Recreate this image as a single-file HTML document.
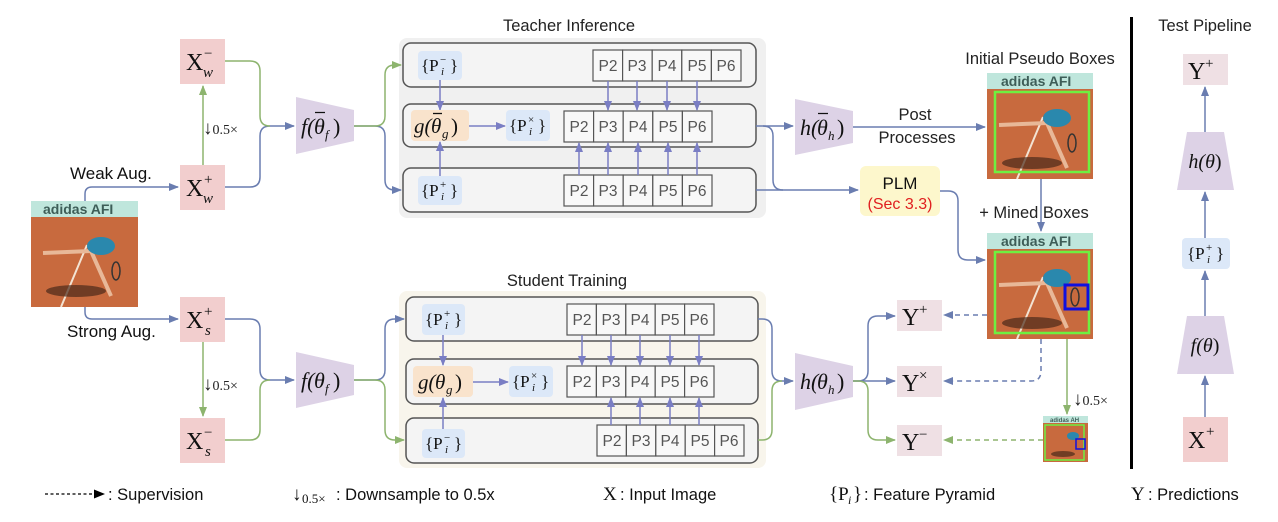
<!DOCTYPE html>
<html><head><meta charset="utf-8"><style>
html,body{margin:0;padding:0;background:#fff;}
svg{display:block;}
.s{font-family:"Liberation Sans",sans-serif;}
.m{font-family:"Liberation Serif","DejaVu Serif",serif;}
</style></head><body>
<svg width="1278" height="522" viewBox="0 0 1278 522" xmlns="http://www.w3.org/2000/svg">
<defs>
<marker id="ab" markerWidth="10" markerHeight="10" refX="9" refY="5" orient="auto" markerUnits="userSpaceOnUse"><path d="M0,1 L10,5 L0,9 z" fill="#6a7db0"/></marker>
<marker id="ag" markerWidth="10" markerHeight="10" refX="9" refY="5" orient="auto" markerUnits="userSpaceOnUse"><path d="M0,1 L10,5 L0,9 z" fill="#8db46e"/></marker>
<marker id="ap" markerWidth="10" markerHeight="10" refX="9" refY="5" orient="auto" markerUnits="userSpaceOnUse"><path d="M0,1 L10,5 L0,9 z" fill="#7a7ec4"/></marker>
</defs>

<g class="s" font-size="16.5" fill="#222" text-anchor="middle">
<text x="569" y="31">Teacher Inference</text>
<text x="567" y="286">Student Training</text>
<text x="1040" y="64">Initial Pseudo Boxes</text>
<text x="1034" y="218">+ Mined Boxes</text>
<text x="1205" y="31">Test Pipeline</text>
</g>

<rect x="399" y="38" width="367" height="180" rx="8" fill="#f0f0f0"/>
<g fill="#f4f4f4" stroke="#555" stroke-width="1.5">
<rect x="403" y="43" width="353" height="44" rx="8"/>
<rect x="403" y="104" width="353" height="43" rx="8"/>
<rect x="403" y="168" width="353" height="44" rx="8"/>
</g>
<rect x="399" y="291" width="367" height="177" rx="8" fill="#f8f5ec"/>
<g fill="#f4f4f4" stroke="#555" stroke-width="1.5">
<rect x="406" y="297" width="352" height="44" rx="8"/>
<rect x="406" y="359" width="352" height="45" rx="8"/>
<rect x="406" y="418" width="352" height="45" rx="8"/>
</g>

<g class="s" font-size="15.5" fill="#555">
<g stroke="#555" stroke-width="1.2" fill="#f8f8f8">
<rect x="593" y="50" width="29.6" height="31"/><rect x="622.6" y="50" width="29.6" height="31"/><rect x="652.2" y="50" width="29.6" height="31"/><rect x="681.8" y="50" width="29.6" height="31"/><rect x="711.4" y="50" width="29.6" height="31"/>
<rect x="564" y="111" width="29.6" height="31"/><rect x="593.6" y="111" width="29.6" height="31"/><rect x="623.2" y="111" width="29.6" height="31"/><rect x="652.8" y="111" width="29.6" height="31"/><rect x="682.4" y="111" width="29.6" height="31"/>
<rect x="564" y="175" width="29.6" height="31"/><rect x="593.6" y="175" width="29.6" height="31"/><rect x="623.2" y="175" width="29.6" height="31"/><rect x="652.8" y="175" width="29.6" height="31"/><rect x="682.4" y="175" width="29.6" height="31"/>
<rect x="567" y="304" width="29.4" height="31"/><rect x="596.4" y="304" width="29.4" height="31"/><rect x="625.8" y="304" width="29.4" height="31"/><rect x="655.2" y="304" width="29.4" height="31"/><rect x="684.6" y="304" width="29.4" height="31"/>
<rect x="567" y="366" width="29.4" height="31"/><rect x="596.4" y="366" width="29.4" height="31"/><rect x="625.8" y="366" width="29.4" height="31"/><rect x="655.2" y="366" width="29.4" height="31"/><rect x="684.6" y="366" width="29.4" height="31"/>
<rect x="597" y="425" width="29.4" height="31"/><rect x="626.4" y="425" width="29.4" height="31"/><rect x="655.8" y="425" width="29.4" height="31"/><rect x="685.2" y="425" width="29.4" height="31"/><rect x="714.6" y="425" width="29.4" height="31"/>
</g>
<g text-anchor="middle">
<text x="608" y="71">P2</text><text x="637" y="71">P3</text><text x="667" y="71">P4</text><text x="697" y="71">P5</text><text x="726" y="71">P6</text>
<text x="579" y="132">P2</text><text x="608" y="132">P3</text><text x="638" y="132">P4</text><text x="668" y="132">P5</text><text x="697" y="132">P6</text>
<text x="579" y="196">P2</text><text x="608" y="196">P3</text><text x="638" y="196">P4</text><text x="668" y="196">P5</text><text x="697" y="196">P6</text>
<text x="582" y="325">P2</text><text x="611" y="325">P3</text><text x="640" y="325">P4</text><text x="670" y="325">P5</text><text x="699" y="325">P6</text>
<text x="582" y="387">P2</text><text x="611" y="387">P3</text><text x="640" y="387">P4</text><text x="670" y="387">P5</text><text x="699" y="387">P6</text>
<text x="612" y="446">P2</text><text x="641" y="446">P3</text><text x="670" y="446">P4</text><text x="700" y="446">P5</text><text x="729" y="446">P6</text>
</g></g>

<g stroke="#7a7ec4" stroke-width="1.5" fill="none">
<path d="M608,81V110" marker-end="url(#ap)"/><path d="M637,81V110" marker-end="url(#ap)"/><path d="M667,81V110" marker-end="url(#ap)"/><path d="M697,81V110" marker-end="url(#ap)"/>
<path d="M579,175V143" marker-end="url(#ap)"/><path d="M608,175V143" marker-end="url(#ap)"/><path d="M638,175V143" marker-end="url(#ap)"/><path d="M668,175V143" marker-end="url(#ap)"/><path d="M697,175V143" marker-end="url(#ap)"/>
<path d="M440,80V110" marker-end="url(#ap)"/><path d="M440,176V142" marker-end="url(#ap)"/>
<path d="M469,126H505" marker-end="url(#ap)"/>
<path d="M582,335V365" marker-end="url(#ap)"/><path d="M611,335V365" marker-end="url(#ap)"/><path d="M640,335V365" marker-end="url(#ap)"/><path d="M670,335V365" marker-end="url(#ap)"/><path d="M699,335V365" marker-end="url(#ap)"/>
<path d="M611,425V398" marker-end="url(#ap)"/><path d="M640,425V398" marker-end="url(#ap)"/><path d="M670,425V398" marker-end="url(#ap)"/><path d="M699,425V398" marker-end="url(#ap)"/>
<path d="M443,335V365" marker-end="url(#ap)"/><path d="M443,430V398" marker-end="url(#ap)"/>
<path d="M473,382H508" marker-end="url(#ap)"/>
</g>

<g fill="#dce8f8">
<rect x="418" y="51" width="44" height="29" rx="4"/><rect x="506" y="110" width="44" height="31" rx="4"/><rect x="418" y="176" width="44" height="29" rx="4"/>
<rect x="422" y="304" width="43" height="31" rx="4"/><rect x="509" y="366" width="44" height="31" rx="4"/><rect x="422" y="429" width="43" height="29" rx="4"/>
<rect x="1182" y="238" width="48" height="31" rx="4"/>
</g>
<rect x="411" y="110" width="58" height="31" rx="4" fill="#f9e3cc"/>
<rect x="413" y="366" width="60" height="31" rx="4" fill="#f9e3cc"/>

<g class="m" fill="#111">
<g font-size="17">
<text x="421" y="71">{P</text><text x="450" y="71">}</text>
<text x="509" y="131">{P</text><text x="538" y="131">}</text>
<text x="421" y="196">{P</text><text x="450" y="196">}</text>
<text x="425" y="325">{P</text><text x="454" y="325">}</text>
<text x="512" y="387">{P</text><text x="541" y="387">}</text>
<text x="425" y="449">{P</text><text x="454" y="449">}</text>
<text x="1187" y="259">{P</text><text x="1216" y="259">}</text>
</g>
<g font-size="11">
<text x="440" y="63">−</text><text x="441" y="75" font-style="italic">i</text>
<text x="528" y="123">×</text><text x="529" y="135" font-style="italic">i</text>
<text x="440" y="188">+</text><text x="441" y="200" font-style="italic">i</text>
<text x="444" y="317">+</text><text x="445" y="329" font-style="italic">i</text>
<text x="531" y="379">×</text><text x="532" y="391" font-style="italic">i</text>
<text x="444" y="441">−</text><text x="445" y="453" font-style="italic">i</text>
<text x="1206" y="251">+</text><text x="1207" y="263" font-style="italic">i</text>
</g>
<g font-size="21">
<text x="414" y="133" font-style="italic">g(</text><text x="431" y="133" font-style="italic">θ</text><text x="451" y="133">)</text>
<text x="418" y="389" font-style="italic">g(</text><text x="435" y="389" font-style="italic">θ</text><text x="455" y="389">)</text>
</g>
<g font-size="13" font-style="italic"><text x="442" y="138">g</text><text x="446" y="394">g</text></g>
<path d="M433,113.5H442" stroke="#111" stroke-width="1.3"/>
</g>

<g fill="#f2cece">
<rect x="180" y="39" width="45" height="45"/><rect x="180" y="165" width="45" height="45"/><rect x="180" y="297" width="45" height="45"/><rect x="180" y="418" width="45" height="45"/>
<rect x="1183" y="417" width="45" height="45"/>
</g>
<g fill="#efe0e4">
<rect x="897" y="300" width="45" height="31"/><rect x="897" y="366" width="45" height="31"/><rect x="897" y="425" width="45" height="31"/>
<rect x="1183" y="54" width="45" height="31"/>
</g>
<g class="m" fill="#111">
<g font-size="24">
<text x="186" y="70">X</text><text x="186" y="196">X</text><text x="186" y="328">X</text><text x="186" y="449">X</text><text x="1188" y="448">X</text>
<text x="902" y="325">Y</text><text x="902" y="391">Y</text><text x="902" y="450">Y</text><text x="1188" y="79">Y</text>
</g>
<g font-size="15">
<text x="204" y="58">−</text><text x="204" y="184">+</text><text x="204" y="316">+</text><text x="204" y="437">−</text><text x="1206" y="436">+</text>
<text x="919" y="314">+</text><text x="919" y="380">×</text><text x="919" y="439">−</text><text x="1205" y="68">+</text>
</g>
<g font-size="15" font-style="italic">
<text x="203" y="77">w</text><text x="203" y="203">w</text><text x="205" y="335">s</text><text x="205" y="456">s</text>
</g>
</g>

<rect x="860" y="166" width="80" height="50" rx="6" fill="#fdf7cc"/>
<text class="s" x="900" y="189" font-size="17" text-anchor="middle" fill="#111">PLM</text>
<text class="s" x="900" y="209" font-size="16" text-anchor="middle" fill="#e02020">(Sec 3.3)</text>
<text class="s" x="915" y="120" font-size="16.5" text-anchor="middle" fill="#222">Post</text>
<text class="s" x="917" y="143" font-size="16.5" text-anchor="middle" fill="#222">Processes</text>

<text class="s" x="70" y="179" font-size="17" fill="#111">Weak Aug.</text>
<text class="s" x="67" y="337" font-size="17" fill="#111">Strong Aug.</text>
<g class="m" font-size="14" fill="#222">
<text x="203" y="134"><tspan font-size="19">↓</tspan>0.5×</text>
<text x="203" y="390"><tspan font-size="19">↓</tspan>0.5×</text>
<text x="1073" y="405"><tspan font-size="19">↓</tspan>0.5×</text>
</g>

<g fill="none" stroke="#6a7db0" stroke-width="1.5">
<path d="M85,201 V194 Q85,187 92,187 H178" marker-end="url(#ab)"/>
<path d="M85,307 V312 Q85,319 92,319 H178" marker-end="url(#ab)"/>
<path d="M225,187 H250 Q260,187 260,177 V136 Q260,126 270,126 H294" marker-end="url(#ab)"/>
<path d="M354,126 H375 Q385,126 385,136 V180 Q385,190 395,190 H401" marker-end="url(#ab)"/>
<path d="M225,319 H250 Q260,319 260,329 V370 Q260,380 270,380 H294" marker-end="url(#ab)"/>
<path d="M354,380 H375 Q385,380 385,370 V329 Q385,319 395,319 H404" marker-end="url(#ab)"/>
<path d="M756,126 H793" marker-end="url(#ab)"/>
<path d="M756,190 H858" marker-end="url(#ab)"/>
<path d="M763,126 Q773,126 773,136 V180 Q773,190 783,190"/>
<path d="M853,127 H985" marker-end="url(#ab)"/>
<path d="M940,191 H948 Q958,191 958,201 V250 Q958,260 968,260 H985" marker-end="url(#ab)"/>
<path d="M1041,179 V231" marker-end="url(#ab)"/>
<path d="M758,319 H762 Q772,319 772,329 V371 Q772,381 782,381 H793" marker-end="url(#ab)"/>
<path d="M853,381 H858 Q868,381 868,371 V326 Q868,316 878,316 H895" marker-end="url(#ab)"/>
<path d="M853,381 H895" marker-end="url(#ab)"/>
<path d="M1205,417 V376" marker-end="url(#ab)"/>
<path d="M1205,316 V271" marker-end="url(#ab)"/>
<path d="M1205,238 V192" marker-end="url(#ab)"/>
<path d="M1205,132 V87" marker-end="url(#ab)"/>
</g>
<g fill="none" stroke="#8db46e" stroke-width="1.5">
<path d="M203,165 V86" marker-end="url(#ag)"/>
<path d="M203,342 V416" marker-end="url(#ag)"/>
<path d="M225,61 H250 Q260,61 260,71 V116 Q260,126 270,126"/>
<path d="M354,126 H375 Q385,126 385,116 V75 Q385,65 395,65 H401" marker-end="url(#ag)"/>
<path d="M225,440 H250 Q260,440 260,430 V390 Q260,380 270,380"/>
<path d="M354,380 H375 Q385,380 385,390 V430 Q385,440 395,440 H404" marker-end="url(#ag)"/>
<path d="M758,440 H762 Q772,440 772,430 V391 Q772,381 782,381"/>
<path d="M853,381 H858 Q868,381 868,391 V430 Q868,440 878,440 H895" marker-end="url(#ag)"/>
<path d="M1067,339 V414" marker-end="url(#ag)"/>
</g>
<g fill="none" stroke-width="1.5" stroke-dasharray="5,4">
<path d="M987,315 H944" stroke="#6a7db0" marker-end="url(#ab)"/>
<path d="M1041,339 V371 Q1041,381 1031,381 H944" stroke="#6a7db0" marker-end="url(#ab)"/>
<path d="M1043,440 H944" stroke="#8db46e" marker-end="url(#ag)"/>
</g>

<g fill="#ddd2e6">
<path d="M296,97 L354,110 L354,141 L296,154 Z"/>
<path d="M296,352 L354,365 L354,395 L296,408 Z"/>
<path d="M795,99 L853,111 L853,143 L795,155 Z"/>
<path d="M795,353 L853,366 L853,397 L795,410 Z"/>
<path d="M1187,132 L1224,132 L1234,190 L1177,190 Z"/>
<path d="M1187,316 L1224,316 L1234,374 L1177,374 Z"/>
</g>
<g class="m" fill="#111">
<g font-size="22" font-style="italic">
<text x="301" y="134">f(</text><text x="314" y="134">θ</text><text x="333" y="134" font-style="normal">)</text>
<text x="301" y="388">f(</text><text x="314" y="388">θ</text><text x="333" y="388" font-style="normal">)</text>
<text x="800" y="135">h(</text><text x="817" y="135">θ</text><text x="837" y="135" font-style="normal">)</text>
<text x="800" y="389">h(</text><text x="817" y="389">θ</text><text x="837" y="389" font-style="normal">)</text>
</g>
<g font-size="13" font-style="italic">
<text x="325" y="139">f</text><text x="325" y="393">f</text>
<text x="828" y="140">h</text><text x="828" y="394">h</text>
</g>
<path d="M315,112.5H325 M818,113.5H828" stroke="#111" stroke-width="1.3"/>
<g font-size="20" font-style="italic" text-anchor="middle">
<text x="1205" y="168">h(θ<tspan font-style="normal">)</tspan></text>
<text x="1205" y="352">f(θ<tspan font-style="normal">)</tspan></text>
</g>
</g>

<g transform="translate(31,201)">
<rect width="107" height="106" fill="#c86a3e"/><rect width="107" height="16" fill="#bfe6dc"/>
<text class="s" x="12" y="13" font-size="14" font-weight="bold" fill="#3e5e58">adidas  AFI</text>
<path d="M30,106 L56,44" stroke="#f3e3d3" stroke-width="2"/>
<ellipse cx="45" cy="90" rx="30" ry="6" fill="#4a2a1a" opacity="0.7"/>
<path d="M12,52 L60,50 M60,50 L80,95" stroke="#e8b898" stroke-width="4" fill="none"/>
<ellipse cx="70" cy="45" rx="14" ry="9" fill="#2a88ad"/>
<ellipse cx="85" cy="70" rx="4" ry="9" fill="none" stroke="#333" stroke-width="1.5"/>
</g>
<g transform="translate(987,73)">
<rect width="106" height="106" fill="#c86a3e"/><rect width="106" height="16" fill="#bfe6dc"/>
<text class="s" x="14" y="13" font-size="14" font-weight="bold" fill="#3e5e58">adidas  AFI</text>
<path d="M30,106 L56,44" stroke="#f3e3d3" stroke-width="2"/>
<ellipse cx="45" cy="90" rx="30" ry="6" fill="#4a2a1a" opacity="0.7"/>
<path d="M12,52 L60,50 M60,50 L80,95" stroke="#e8b898" stroke-width="4" fill="none"/>
<ellipse cx="70" cy="45" rx="14" ry="9" fill="#2a88ad"/>
<ellipse cx="85" cy="70" rx="4" ry="9" fill="none" stroke="#333" stroke-width="1.5"/>
<rect x="8" y="19" width="94" height="80" fill="none" stroke="#6ef040" stroke-width="2.5"/>
</g>
<g transform="translate(987,233)">
<rect width="106" height="106" fill="#c86a3e"/><rect width="106" height="16" fill="#bfe6dc"/>
<text class="s" x="14" y="13" font-size="14" font-weight="bold" fill="#3e5e58">adidas  AFI</text>
<path d="M30,106 L56,44" stroke="#f3e3d3" stroke-width="2"/>
<ellipse cx="45" cy="90" rx="30" ry="6" fill="#4a2a1a" opacity="0.7"/>
<path d="M12,52 L60,50 M60,50 L80,95" stroke="#e8b898" stroke-width="4" fill="none"/>
<ellipse cx="70" cy="45" rx="14" ry="9" fill="#2a88ad"/>
<ellipse cx="88" cy="64" rx="4" ry="9" fill="none" stroke="#333" stroke-width="1.5"/>
<rect x="8" y="19" width="94" height="81" fill="none" stroke="#6ef040" stroke-width="2.5"/>
<rect x="78" y="52" width="23" height="24" fill="none" stroke="#1010e0" stroke-width="3"/>
</g>
<g transform="translate(1043,416)">
<rect width="45" height="46" fill="#c86a3e"/><rect width="45" height="7" fill="#bfe6dc"/>
<text class="s" x="7" y="6" font-size="6" font-weight="bold" fill="#3e5e58">adidas  AH</text>
<ellipse cx="20" cy="38" rx="12" ry="3" fill="#4a2a1a" opacity="0.7"/>
<ellipse cx="30" cy="20" rx="6" ry="4" fill="#2a88ad"/>
<rect x="2" y="9" width="39" height="35" fill="none" stroke="#6ef040" stroke-width="1.5"/>
<rect x="33" y="23" width="9" height="10" fill="none" stroke="#1010e0" stroke-width="1.5"/>
</g>

<rect x="1130" y="17" width="3" height="452" fill="#000"/>

<path d="M45,494 H95" stroke="#000" stroke-width="1.3" stroke-dasharray="3,2.5"/>
<path d="M105,494 L94,489.5 L94,498.5 Z" fill="#000"/>
<g class="s" font-size="16.5" fill="#111">
<text x="108" y="500">: Supervision</text>
<text x="336" y="500">: Downsample to 0.5x</text>
<text x="620" y="500">: Input Image</text>
<text x="864" y="500">: Feature Pyramid</text>
<text x="1148" y="500">: Predictions</text>
</g>
<g class="m" fill="#111">
<text x="292" y="500" font-size="19">↓</text><text x="302" y="503" font-size="13">0.5×</text>
<text x="603" y="500" font-size="19">X</text>
<text x="829" y="500" font-size="19">{P</text><text x="848" y="504" font-size="12" font-style="italic">i</text><text x="853" y="500" font-size="19">}</text>
<text x="1131" y="500" font-size="19">Y</text>
</g>
</svg>
</body></html>
